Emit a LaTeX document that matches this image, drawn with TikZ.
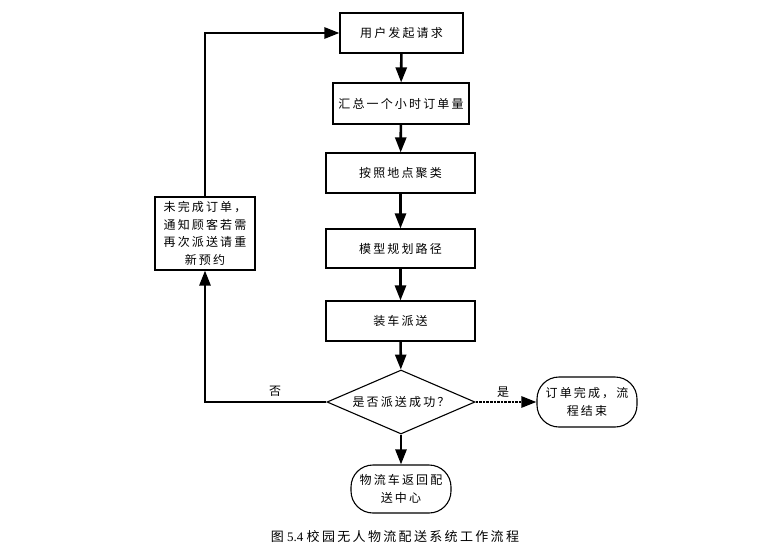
\documentclass[tikz,border=0pt]{standalone}
\usepackage{fontspec}
\setmainfont{Liberation Serif}
\newfontfamily\cjk[LetterSpace=18]{Noto Sans CJK SC}
\usetikzlibrary{arrows.meta,shapes.geometric}

\begin{document}
\begin{tikzpicture}[x=1pt,y=-1pt,
    stepbox/.style={draw,line width=1.1pt,font=\cjk\fontsize{12}{17.5}\selectfont,inner sep=2pt},
    endbox/.style={stepbox,rounded corners=22pt,align=center},
    decide/.style={stepbox,diamond,aspect=2.3,inner sep=0pt},
    flow/.style={line width=2.6pt,-{Triangle[length=15pt,width=11pt]}},
    lbl/.style={font=\cjk\fontsize{12}{14}\selectfont}]
    \useasboundingbox (0,0) rectangle (762,558);

    % Main chain of steps
    \node[stepbox,minimum width=123pt,minimum height=40pt] (req) at (401.5,33) {用户发起请求};
    \node[stepbox,minimum width=136pt,minimum height=41pt] (sum) at (401,103.5) {汇总一个小时订单量};
    \node[stepbox,minimum width=149pt,minimum height=40pt] (clu) at (400.5,173) {按照地点聚类};
    \node[stepbox,minimum width=149pt,minimum height=39pt] (plan) at (400.5,248.5) {模型规划路径};
    \node[stepbox,minimum width=149pt,minimum height=40pt] (load) at (400.5,321) {装车派送};

    % Decision and its outcomes
    \node[decide,minimum width=148pt,minimum height=64pt] (ok) at (401,402) {是否派送成功？};
    \node[endbox,minimum width=100pt,minimum height=50pt] (done) at (587,402) {订单完成，流\\程结束};
    \node[endbox,minimum width=100pt,minimum height=48pt] (back) at (401,489) {物流车返回配\\送中心};
    \node[stepbox,align=center,minimum width=100pt,minimum height=73pt] (retry) at (205,233.5) {未完成订单，\\通知顾客若需\\再次派送请重\\新预约};

    % Arrows down the chain
    \draw[flow] (req) -- (sum);
    \draw[flow] (sum) -- (clu);
    \draw[flow] (clu) -- (plan);
    \draw[flow] (plan) -- (load);
    \draw[flow] (load) -- (ok);
    \draw[flow] (ok) -- (back);
    \draw[flow,densely dotted] (ok) -- (done);

    % Loop back when delivery fails
    \draw[flow] (ok.west) -| (retry.south);
    \draw[flow] (retry.north) |- (req.west);

    \node[lbl] (no) at (275,391) {否};
    \node[lbl] (yes) at (503,392) {是};

    % Caption
    \node[font=\fontsize{13}{15}\selectfont] (cap) at (395,537) {{\cjk 图} 5.4 {\cjk 校园无人物流配送系统工作流程}};
\end{tikzpicture}
\end{document}
